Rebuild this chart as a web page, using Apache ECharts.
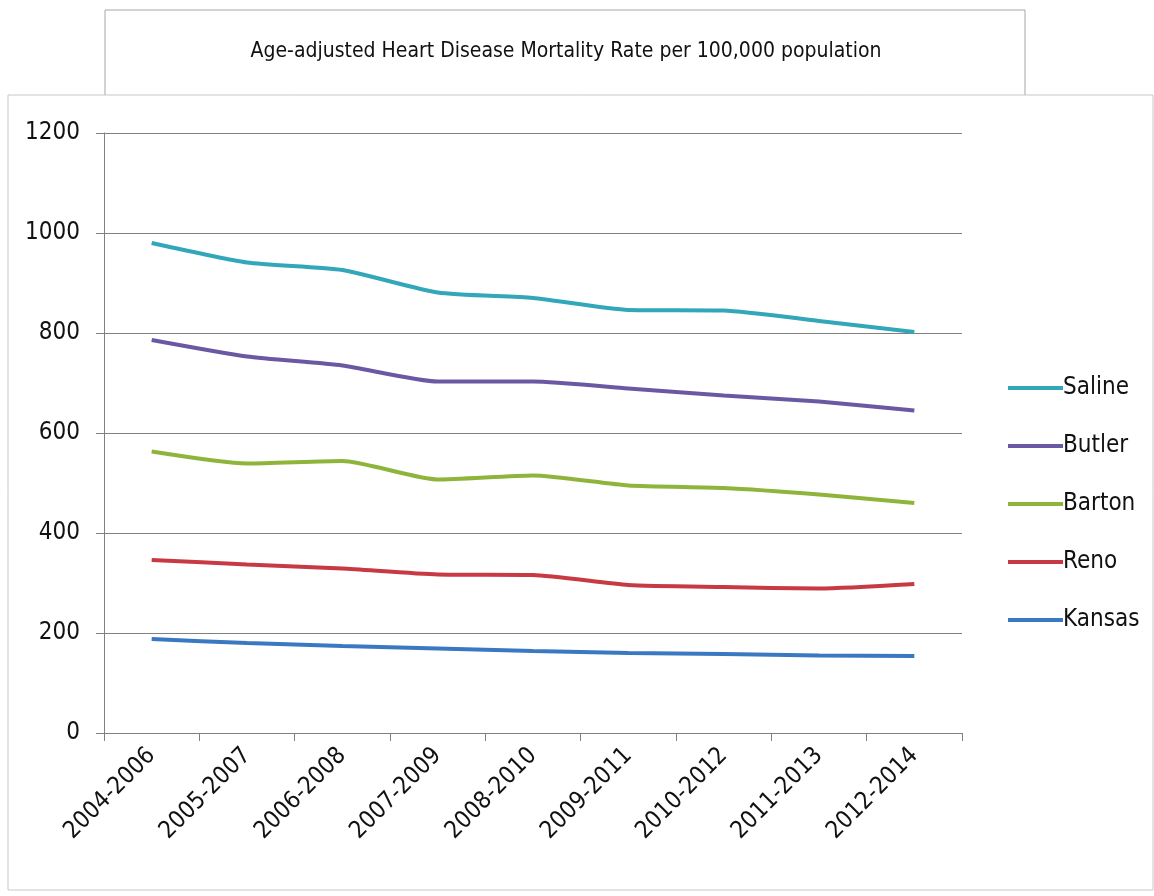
<!DOCTYPE html>
<html>
<head>
<meta charset="utf-8">
<script src="https://cdn.jsdelivr.net/npm/echarts@6/dist/echarts.min.js"></script>
<style>
html,body{margin:0;padding:0;background:#fff;}
#main{width:1154px;height:896px;}
</style>
</head>
<body>
<div id="main"></div>
<script>
var periods = ['2004-2006','2005-2007','2006-2008','2007-2009','2008-2010','2009-2011','2010-2012','2011-2013','2012-2014'];
var saline = [980, 941, 926, 881, 870, 846, 845, 824, 802];
var butler = [786, 753, 735, 703, 703, 689, 675, 663, 645];
var barton = [563, 539, 544, 507, 515, 495, 490, 477, 460];
var reno   = [346, 337, 329, 317, 316, 296, 292, 289, 298];
var kansas = [188, 180, 174, 169, 164, 160, 158, 155, 154];
var yTicks = [0, 200, 400, 600, 800, 1000, 1200];

var FONT = "'Liberation Sans Narrow','DejaVu Sans Condensed',sans-serif";

function line(name, data, color){
    return {
        name: name,
        type: 'line',
        data: data,
        smooth: 0.2,
        symbol: 'none',
        lineStyle: {width: 4, color: color},
        itemStyle: {color: color}
    };
}

var myChart = echarts.init(document.getElementById('main'));
var option = {
    animation: false,
    backgroundColor: '#fff',
    graphic: [
        {type: 'rect', z: -10, shape: {x: 105, y: 10, width: 920, height: 90}, style: {fill: '#fff', stroke: '#a6a6a6', lineWidth: 1}},
        {type: 'rect', z: -9, shape: {x: 8, y: 95, width: 1145, height: 795}, style: {fill: '#fff', stroke: '#c8c8c8', lineWidth: 1}},
        {type: 'text', z: 5, x: 566, y: 52, style: {text: 'Age-adjusted Heart Disease Mortality Rate per 100,000 population', fontFamily: FONT, fontSize: 21, fill: '#111', align: 'center', verticalAlign: 'middle'}}
    ],
    grid: {left: 104, right: 192, top: 133, bottom: 163},
    legend: {
        orient: 'vertical',
        left: 1003,
        top: 371,
        icon: 'rect',
        itemWidth: 55,
        itemHeight: 4,
        itemGap: 34,
        textStyle: {fontFamily: FONT, fontSize: 24, color: '#111', padding: [0, 0, 0, -5]},
        data: ['Saline','Butler','Barton','Reno','Kansas']
    },
    xAxis: {
        type: 'category',
        data: periods,
        boundaryGap: true,
        axisLine: {lineStyle: {color: '#808080', width: 1}},
        axisTick: {show: true, length: 8, interval: 0, lineStyle: {color: '#808080'}},
        axisLabel: {interval: 0, rotate: 45, margin: 19, fontFamily: FONT, fontSize: 24, color: '#111'}
    },
    yAxis: {
        type: 'value',
        min: yTicks[0],
        max: yTicks[yTicks.length - 1],
        interval: 200,
        axisLine: {show: true, lineStyle: {color: '#808080', width: 1}},
        axisTick: {show: true, length: 8, lineStyle: {color: '#808080'}},
        axisLabel: {margin: 24, fontFamily: FONT, fontSize: 24, color: '#111', formatter: function(v){ return String(v); }},
        splitLine: {lineStyle: {color: '#808080', width: 1}}
    },
    series: [
        line('Saline', saline, '#31a7b9'),
        line('Butler', butler, '#6a58a3'),
        line('Barton', barton, '#8fb43c'),
        line('Reno', reno, '#c73a43'),
        line('Kansas', kansas, '#3b78c2')
    ]
};
myChart.setOption(option);
</script>
</body>
</html>
